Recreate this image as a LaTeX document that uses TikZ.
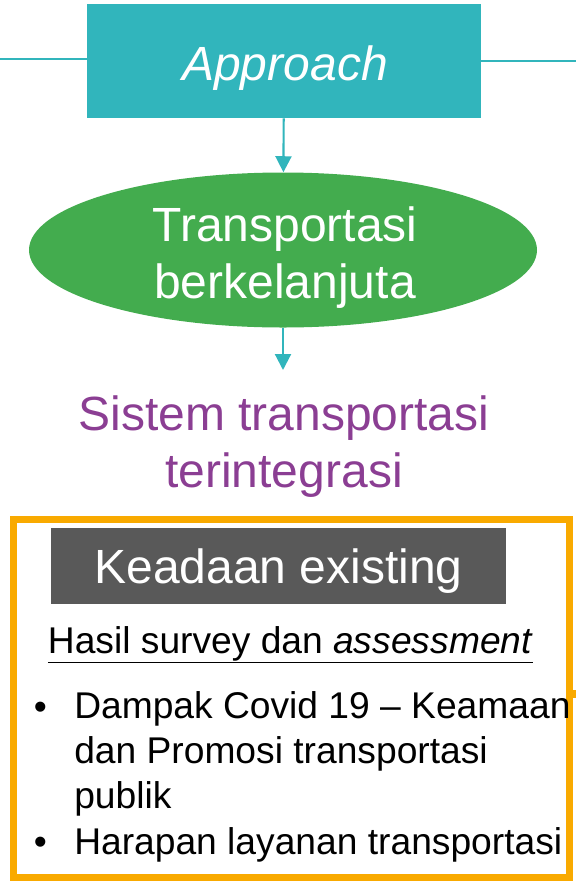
\documentclass[tikz,border=0pt]{standalone}
\usepackage{fontspec}
\setmainfont{Liberation Sans}
\usepackage{xcolor}
\usetikzlibrary{
    arrows.meta,
    shapes.geometric,
    positioning
}
\definecolor{approachteal}{HTML}{31B5BC}
\definecolor{susgreen}{HTML}{43AC4E}
\definecolor{sistempurple}{HTML}{8B3E93}
\definecolor{framegold}{HTML}{F9AA00}
\definecolor{headgray}{HTML}{595959}

\begin{document}
\begin{tikzpicture}[x=0.75pt, y=0.75pt,
    big/.style={font=\fontsize{36pt}{42.5pt}\selectfont, align=center, inner sep=0pt},
    small/.style={font=\fontsize{27.9pt}{33.4pt}\selectfont, align=left, inner sep=0pt},
    flow/.style={draw=approachteal, line width=1.6pt, -{Triangle[width=12pt, length=12pt]}},
    sideline/.style={draw=approachteal, line width=1.5pt}]
    \useasboundingbox (0, 0) rectangle (576, -886);
    % approach box with its two side lines
    \node[fill=approachteal, minimum width=295.5pt, minimum height=85.5pt, inner sep=0pt] (approach) at (284, -61) {};
    \node[big, text=white, anchor=base] (approachtext) at (285, -80) {\textit{Approach}};
    \coordinate (leftend) at (0, -59);
    \coordinate (rightend) at (576, -61);
    \draw[sideline] (leftend) -- (leftend -| approach.west);
    \draw[sideline] (approach.east |- rightend) -- (rightend);
    % ellipse
    \node[ellipse, fill=susgreen, minimum width=381pt, minimum height=116.25pt, inner sep=0pt] (trans) at (283, -250) {};
    \node[big, text=white, anchor=base] (transtext) at (285, -298) {Transportasi\\berkelanjuta};
    \draw[flow] (approach) -- (trans);
    % result
    \node[big, text=sistempurple, anchor=base] (sistem) at (284, -487) {Sistem transportasi\\terintegrasi};
    \coordinate (sistemtop) at (283, -370);
    \draw[flow] (trans) -- (sistemtop);
    % existing condition frame
    \draw[framegold, line width=5.25pt] (13, -519.5) rectangle (569, -877.5);
    \fill[framegold] (569, -690) rectangle (576, -698);
    \node[fill=headgray, minimum width=341.25pt, minimum height=57pt, inner sep=0pt] (keadaan) at (278.5, -566) {};
    \node[big, text=white, anchor=base] (keadaantext) at (278.5, -583) {Keadaan existing};
    \node[small, anchor=base] (hasil) at (290.5, -653) {\underline{Hasil survey dan \textit{assessment}}};
    \node[small, anchor=base] (dotone) at (40.5, -719) {•};
    \node[small, anchor=base west] (itemone) at (74, -808) {Dampak Covid 19 – Keamaan\\dan Promosi transportasi\\publik};
    \node[small, anchor=base] (dottwo) at (40.5, -854) {•};
    \node[small, anchor=base west] (itemtwo) at (74, -854) {Harapan layanan transportasi};
\end{tikzpicture}
\end{document}
